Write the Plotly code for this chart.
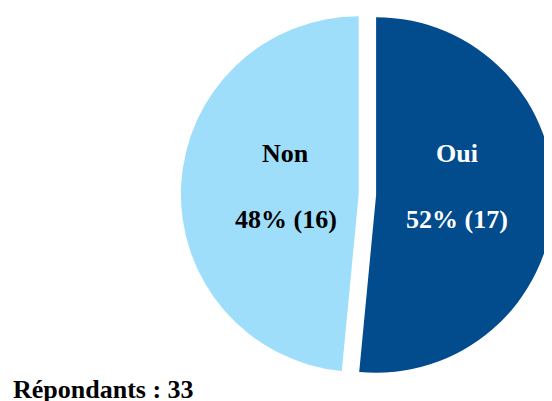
import math
import plotly.graph_objects as go

labels = ["Oui", "Non"]
values = [17, 16]
colors = ["#024C8D", "#9FDEFA"]
text_colors = ["#FFFFFF", "#000000"]
label_radial = [0.455, 0.41]
respondents_label = "Répondants : 33"

FONT = "Liberation Serif, Times New Roman, serif"
W, H = 552, 401
OFF = 8  # page body margin
cx, cy = 367.4 - OFF, 194.5 - OFF   # pie centre in figure pixels
PULL = 0.049
half = cy
r = half / (1 + PULL)

fig = go.Figure(go.Pie(
    labels=labels,
    values=values,
    sort=False,
    direction="clockwise",
    rotation=0,
    pull=[PULL, PULL],
    marker=dict(colors=colors, line=dict(width=0)),
    textinfo="none",
    hoverinfo="skip",
    showlegend=False,
    domain=dict(x=[(cx - half) / W, (cx + half) / W],
                y=[1 - (cy + half) / H, 1 - (cy - half) / H]),
))

total = sum(values)
start = 0.0
for lab, val, tc, k in zip(labels, values, text_colors, label_radial):
    frac = val / total
    theta = math.radians((start + frac / 2) * 360)
    start += frac
    sx = math.sin(theta)
    px = cx + (PULL * r + k * r) * sx
    for txt, dy in ((lab, -41), (f"{round(frac * 100)}% ({val})", 24.5)):
        fig.add_annotation(
            text="<b>" + txt + "</b>",
            x=px / W, xref="paper", xanchor="center",
            y=1 - (cy + dy) / H, yref="paper", yanchor="middle",
            showarrow=False,
            font=dict(family=FONT, size=26, color=tc),
        )

fig.add_annotation(
    text="<b>" + respondents_label + "</b>",
    x=(11 - OFF) / W, xref="paper", xanchor="left",
    y=1 - (389 - OFF) / H, yref="paper", yanchor="middle",
    showarrow=False,
    font=dict(family=FONT, size=26, color="#000000"),
)

fig.update_layout(
    width=W, height=H,
    margin=dict(l=0, r=0, t=0, b=0),
    paper_bgcolor="white",
    plot_bgcolor="white",
)

fig.write_html("out.html")
